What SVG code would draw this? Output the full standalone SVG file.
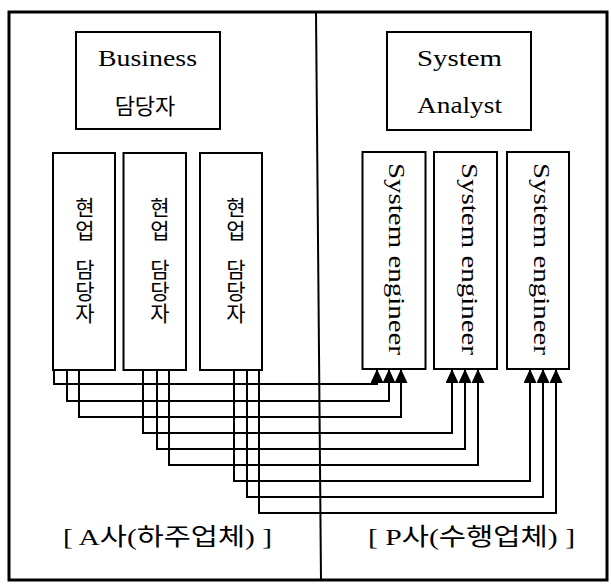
<svg xmlns="http://www.w3.org/2000/svg" width="611" height="586" viewBox="0 0 611 586">
<defs>
<style>
.box{fill:#fff;stroke:#000;stroke-width:2}
.t{font-family:"Liberation Serif","Noto Sans CJK KR",serif;fill:#000}
.k{font-family:"Noto Sans CJK KR","Liberation Serif",sans-serif;fill:#000;font-size:21px;writing-mode:vertical-rl;text-orientation:upright}
.c{fill:none;stroke:#000;stroke-width:2}
</style>
<marker id="ah" viewBox="0 0 14 13" refX="14" refY="6.5" markerWidth="14" markerHeight="13" markerUnits="userSpaceOnUse" orient="auto">
<path d="M0,0 L14,6.5 L0,13 z" fill="#000"/>
</marker>
</defs>
<rect width="611" height="586" fill="#fff"/>
<g id="frame">
<rect x="9" y="12" width="598" height="568" fill="none" stroke="#000" stroke-width="3"/>
<line x1="316" y1="12" x2="321" y2="580" stroke="#000" stroke-width="2"/>
</g>
<g id="business">
<rect class="box" x="76" y="32" width="144" height="97"/>
<text class="t" x="98" y="66" font-size="24" textLength="99" lengthAdjust="spacingAndGlyphs">Business</text>
<text class="t" x="145" y="114" font-size="22" text-anchor="middle" font-family="Noto Sans CJK KR">담당자</text>
</g>
<g id="analyst">
<rect class="box" x="387" y="32" width="144" height="98"/>
<text class="t" x="417" y="66" font-size="24" textLength="85" lengthAdjust="spacingAndGlyphs">System</text>
<text class="t" x="417" y="113" font-size="24" textLength="85" lengthAdjust="spacingAndGlyphs">Analyst</text>
</g>
<g id="hyeonup1">
<rect class="box" x="53" y="153" width="62" height="217"/>
<text class="k" x="85" y="197" letter-spacing="2">현업</text>
<text class="k" x="85" y="259" letter-spacing="1">담당자</text>
</g>
<g id="hyeonup2">
<rect class="box" x="123.5" y="153" width="62.5" height="217"/>
<text class="k" x="160" y="197" letter-spacing="2">현업</text>
<text class="k" x="160" y="259" letter-spacing="1">담당자</text>
</g>
<g id="hyeonup3">
<rect class="box" x="200" y="153" width="62" height="217"/>
<text class="k" x="236" y="197" letter-spacing="2">현업</text>
<text class="k" x="236" y="259" letter-spacing="1">담당자</text>
</g>
<g id="se1">
<rect class="box" x="362.5" y="152" width="63" height="217"/>
<text class="t" font-size="24" transform="translate(389,163) rotate(90)" textLength="192" lengthAdjust="spacingAndGlyphs">System engineer</text>
</g>
<g id="se2">
<rect class="box" x="434" y="152" width="63" height="217"/>
<text class="t" font-size="24" transform="translate(462,163) rotate(90)" textLength="192" lengthAdjust="spacingAndGlyphs">System engineer</text>
</g>
<g id="se3">
<rect class="box" x="507" y="152" width="62" height="217"/>
<text class="t" font-size="24" transform="translate(534,163) rotate(90)" textLength="192" lengthAdjust="spacingAndGlyphs">System engineer</text>
</g>
<g id="connectors">
<path class="c" marker-end="url(#ah)" d="M54,370 V384 H377 V369"/>
<path class="c" marker-end="url(#ah)" d="M67,370 V401 H389 V369"/>
<path class="c" marker-end="url(#ah)" d="M79,370 V417 H401 V369"/>
<path class="c" marker-end="url(#ah)" d="M143,370 V433 H452 V369"/>
<path class="c" marker-end="url(#ah)" d="M157,370 V449 H465 V369"/>
<path class="c" marker-end="url(#ah)" d="M169,370 V465 H478 V369"/>
<path class="c" marker-end="url(#ah)" d="M234,370 V481 H530 V369"/>
<path class="c" marker-end="url(#ah)" d="M247,370 V497 H543 V369"/>
<path class="c" marker-end="url(#ah)" d="M259,370 V513 H556 V369"/>
</g>
<g id="labels">
<text class="t" x="63" y="545" font-size="24" textLength="209" lengthAdjust="spacingAndGlyphs">[ A사(하주업체) ]</text>
<text class="t" x="368" y="545" font-size="24" textLength="207" lengthAdjust="spacingAndGlyphs">[ P사(수행업체) ]</text>
</g>
</svg>
